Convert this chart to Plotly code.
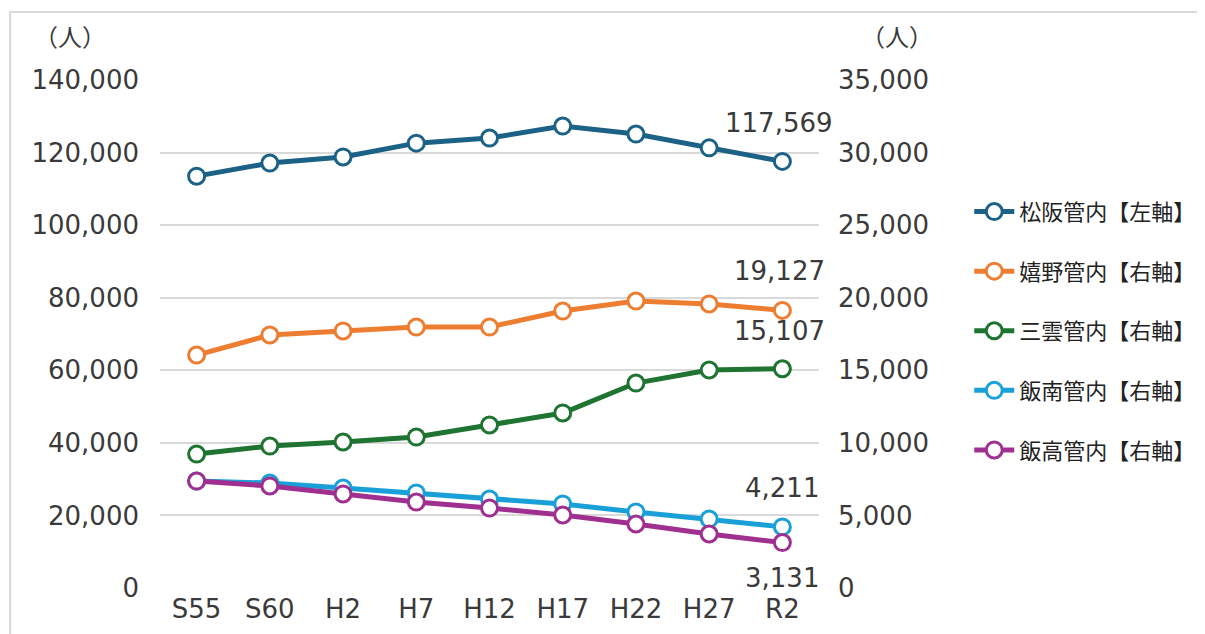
import plotly.graph_objects as go

categories = ["S55", "S60", "H2", "H7", "H12", "H17", "H22", "H27", "R2"]
matsusaka = [113500, 117100, 118800, 122600, 124000, 127300, 125100, 121300, 117569]
ureshino = [16050, 17430, 17710, 17980, 17980, 19080, 19770, 19570, 19127]
mikumo = [9230, 9780, 10060, 10400, 11230, 12060, 14120, 15020, 15107]
iinan = [7370, 7230, 6890, 6550, 6130, 5790, 5240, 4750, 4211]
iitaka = [7370, 7030, 6480, 5920, 5510, 5030, 4410, 3720, 3131]

names = ["松阪管内【左軸】", "嬉野管内【右軸】", "三雲管内【右軸】", "飯南管内【右軸】", "飯高管内【右軸】"]
colors = ["#1B6286", "#ED7D31", "#1E7430", "#1AA0D8", "#A0308F"]
series = [matsusaka, ureshino, mikumo, iinan, iitaka]
axes = ["y", "y2", "y2", "y2", "y2"]

CJK = "Noto Sans CJK JP"
NUM = "DejaVu Sans"
TXT = "#3a3a3a"
FS = 26

fig = go.Figure()
for i, (nm, col, vals, ax) in enumerate(zip(names, colors, series, axes)):
    fig.add_trace(go.Scatter(
        x=categories, y=vals, name=nm, yaxis=ax, mode="lines+markers",
        line=dict(color=col, width=5),
        marker=dict(symbol="circle", size=16, color="white", line=dict(color=col, width=3)),
        legendgroup=f"g{i}",
    ))

# end labels
labels = [
    (matsusaka[-1], "y", 38, -3),
    (ureshino[-1], "y2", 39, -3),
    (mikumo[-1], "y2", 38, -3),
    (iinan[-1], "y2", 39, 0),
    (iitaka[-1], "y2", -35, 0),
]
for val, ax, dy, dx in labels:
    fig.add_annotation(x=categories[-1], y=val, xref="x", yref=ax,
                       text=f"{val:,}", showarrow=False, yshift=dy, xshift=dx,
                       font=dict(size=FS, color=TXT, family=NUM))

for xp in (-0.136, 1.118):
    fig.add_annotation(x=xp, y=1.05, xref="paper", yref="paper", text="（人）",
                       showarrow=False, xanchor="center", yanchor="bottom",
                       font=dict(size=24, color=TXT, family=CJK))

fig.add_shape(type="rect", xref="paper", yref="paper", x0=-0.2275, x1=2.0, y0=-0.5, y1=1.134,
              line=dict(color="#D9D9D9", width=2), layer="below")

fig.update_layout(
    width=1205, height=634,
    margin=dict(l=152, r=391, t=72, b=54),
    paper_bgcolor="white", plot_bgcolor="white",
    font=dict(family=NUM, size=FS, color=TXT),
    showlegend=True,
    legend=dict(x=1.228, y=0.782, xanchor="left", yanchor="top",
                font=dict(size=22, color="#222222", family=CJK),
                tracegroupgap=28, itemwidth=40, bgcolor="rgba(0,0,0,0)"),
    xaxis=dict(type="category", showgrid=False, showline=False, ticks="",
               ticklabelstandoff=3,
               tickfont=dict(size=FS, family=NUM, color=TXT), range=[-0.5, 8.5]),
    yaxis=dict(range=[0, 140000], dtick=20000, tickformat=",", showgrid=True,
               gridcolor="#D9D9D9", gridwidth=2, zeroline=False, showline=False,
               ticklabelstandoff=20, tickfont=dict(size=FS, family=NUM, color=TXT)),
    yaxis2=dict(range=[0, 35000], dtick=5000, tickformat=",", overlaying="y", side="right",
                showgrid=False, zeroline=False, showline=False,
                ticklabelstandoff=18, tickfont=dict(size=FS, family=NUM, color=TXT)),
)

fig.write_html("out.html")
